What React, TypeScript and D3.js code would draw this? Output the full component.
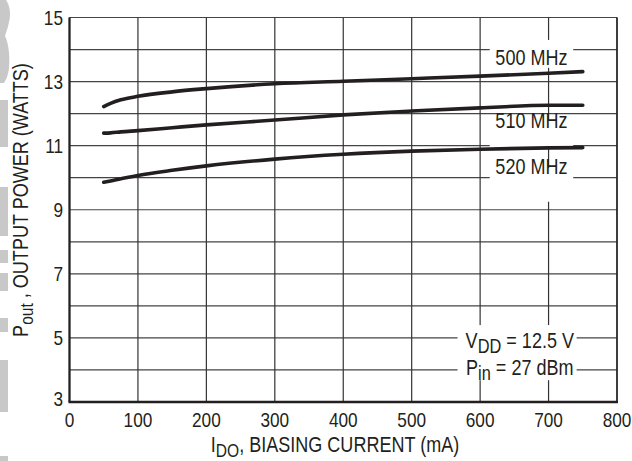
import React from 'react';
import * as d3 from 'd3';

// bias current (mA) sample points, shared by all three curves
const current = [50, 60, 75, 100, 150, 200, 300, 400, 500, 600, 700, 750];
const pout500 = [12.22, 12.32, 12.43, 12.54, 12.68, 12.78, 12.93, 13.01, 13.09, 13.17, 13.26, 13.31];
const pout510 = [11.39, 11.4, 11.43, 11.47, 11.56, 11.65, 11.8, 11.96, 12.08, 12.18, 12.26, 12.26];
const pout520 = [9.86, 9.9, 9.97, 10.07, 10.23, 10.37, 10.58, 10.73, 10.83, 10.89, 10.93, 10.94];

const xTicks = [0, 100, 200, 300, 400, 500, 600, 700, 800];
const yTicks = [3, 5, 7, 9, 11, 13, 15];
const yGrid = d3.range(3, 16, 1);

const curveLabels = [
  { text: '500 MHz', x: 675, y: 13.52, box: [614, 736, 14.3, 13.43] },
  { text: '510 MHz', x: 675, y: 11.55, box: [614, 736, 11.78, 10.95] },
  { text: '520 MHz', x: 675, y: 10.12, box: [614, 736, 10.3, 9.25] },
];

// grey blocks from the datasheet edge tab (y in px)
const tabBlocks = [
  [100, 147], [187, 236], [250, 263], [273, 291], [318, 332], [360, 412], [456, 461],
];

const W = 632;
const H = 461;
const ink = '#231f20';
const font = "'Liberation Sans', Arial, sans-serif";
const narrow = 0.82; // squeeze to look like Helvetica Narrow

// text squeezed horizontally around its anchor point
const NText = ({ x, y, size, anchor = 'middle', rotate = 0, children }: any) => (
  <g transform={`translate(${x},${y}) rotate(${rotate}) scale(${narrow},1)`}>
    <text textAnchor={anchor} fontSize={size} fill={ink}>{children}</text>
  </g>
);

export default function App() {
  const x = d3.scaleLinear().domain([0, 800]).range([69.5, 617]);
  const y = d3.scaleLinear().domain([3, 15]).range([402, 17.5]);

  const line = d3.line<number>()
    .x((_, i) => x(current[i]))
    .y(d => y(d))
    .curve(d3.curveMonotoneX);

  const series = [pout500, pout510, pout520];

  return (
    <svg width={W} height={H} style={{ position: 'absolute', left: 0, top: 0, background: '#fff' }}
      fontFamily={font}>
      {/* edge tab decoration */}
      <path d="M0,0 L6,0 C10,6 11,14 9,22 C8,28 6,32 5,36 C9,44 10,58 9,68 C8,76 6,80 4,83 L0,83 Z" fill="#c8c8c8" />
      {tabBlocks.map(([a, b], i) => (
        <rect key={i} x={0} y={a} width={8} height={b - a} fill="#c8c8c8" />
      ))}

      {/* grid */}
      {yGrid.map(v => (
        <line key={'h' + v} x1={x(0)} x2={x(800)} y1={y(v)} y2={y(v)} stroke="#444" strokeWidth={1.2} />
      ))}
      {xTicks.map(v => (
        <line key={'v' + v} x1={x(v)} x2={x(v)} y1={y(3)} y2={y(15)} stroke="#333" strokeWidth={1.2} />
      ))}

      {/* label knock-outs */}
      {curveLabels.map(l => (
        <rect key={'b' + l.text} x={x(l.box[0])} y={y(l.box[2])} width={x(l.box[1]) - x(l.box[0])}
          height={y(l.box[3]) - y(l.box[2])} fill="#fff" />
      ))}
      <rect x={x(567)} y={y(5.4)} width={x(741) - x(567)} height={y(3.68) - y(5.4)} fill="#fff" />

      {/* curves */}
      {series.map((s, i) => (
        <path key={i} d={line(s) || ''} fill="none" stroke={ink} strokeWidth={3.6} strokeLinecap="round" />
      ))}

      {/* frame */}
      <line x1={x(0)} x2={x(0)} y1={y(3)} y2={y(15)} stroke={ink} strokeWidth={2.2} />
      <line x1={x(0) - 1} x2={x(800) + 1} y1={y(3)} y2={y(3)} stroke={ink} strokeWidth={2.4} />
      <line x1={x(800)} x2={x(800)} y1={y(3)} y2={y(15)} stroke={ink} strokeWidth={1.4} />

      {/* curve labels */}
      {curveLabels.map(l => (
        <NText key={l.text} x={x(l.x)} y={y(l.y)} size={22}>{l.text}</NText>
      ))}

      {/* conditions */}
      <NText x={x(658)} y={y(4.69)} size={22}>
        V<tspan fontSize={20} dy={5}>DD</tspan><tspan dy={-5}> = 12.5 V</tspan>
      </NText>
      <NText x={x(658)} y={y(3.85)} size={22}>
        P<tspan fontSize={20} dy={5}>in</tspan><tspan dy={-5}> = 27 dBm</tspan>
      </NText>

      {/* y tick labels */}
      {yTicks.map(v => (
        <NText key={'yt' + v} x={63} y={y(v) + (v === 3 ? -4 : 0) + 7.5} size={21} anchor="end">{v}</NText>
      ))}
      {/* x tick labels */}
      {xTicks.map(v => (
        <NText key={'xt' + v} x={x(v)} y={427} size={21}>{v}</NText>
      ))}

      {/* axis titles */}
      <NText x={335} y={452} size={22}>
        I<tspan fontSize={19} dy={5}>DO</tspan><tspan dy={-5}>, BIASING CURRENT (mA)</tspan>
      </NText>
      <NText x={28} y={200} rotate={-90} size={22}>
        P<tspan fontSize={19} dy={5}>out</tspan><tspan dy={-5}> , OUTPUT POWER (WATTS)</tspan>
      </NText>
    </svg>
  );
}
